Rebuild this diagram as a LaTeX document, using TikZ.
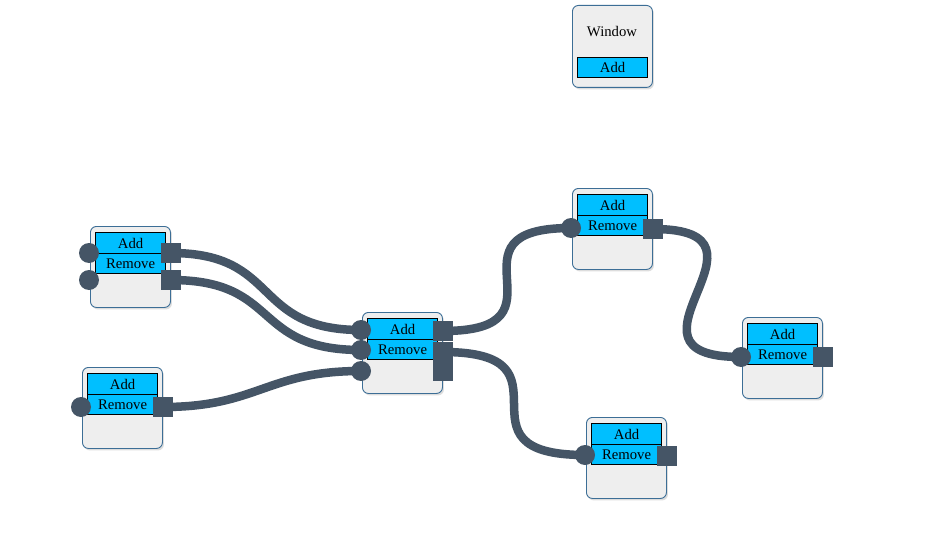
\documentclass[tikz,border=0pt]{standalone}
\usepackage{fontspec}
\setmainfont{Liberation Serif}
\usetikzlibrary{shadows}
\definecolor{wire}{RGB}{69,85,102}
\definecolor{boxfill}{RGB}{238,238,238}
\definecolor{boxline}{RGB}{60,110,150}
\definecolor{barfill}{RGB}{0,191,255}
\pgfdeclarelayer{bg}
\pgfdeclarelayer{wires}
\pgfsetlayers{bg,wires,main}
\newcommand{\mknode}[3]{%
  \node[box, anchor=north west] (#1) at (#2,#3) {};
  \node[bar, minimum height=21pt, anchor=north west] (#1add) at ({#2+5},{#3+6}) {Add};
  \node[bar, minimum height=20pt, anchor=north west] (#1rem) at ({#2+5},{#3+27}) {Remove};
}
\begin{document}
\begin{tikzpicture}[x=1pt,y=-1pt,
  box/.style={draw=boxline, fill=boxfill, line width=0.9pt, rounded corners=6pt,
    minimum width=80pt, minimum height=81pt, inner sep=0pt,
    drop shadow={shadow xshift=1.5pt, shadow yshift=-2pt, opacity=0.22, fill=black!60}},
  bar/.style={draw=black, fill=barfill, line width=1.2pt, minimum width=70pt,
    inner sep=0pt, font=\fontsize{14.7}{16}\selectfont},
  lbl/.style={inner sep=0pt, font=\fontsize{14.7}{16}\selectfont},
  inport/.style={circle, fill=wire, minimum size=20pt, inner sep=0pt},
  outport/.style={rectangle, fill=wire, minimum size=20pt, inner sep=0pt},
  wirestyle/.style={draw=wire, line width=8.5pt}]
\useasboundingbox (0,0) rectangle (926,559);
\begin{pgfonlayer}{bg}
\fill[white] (0,0) rectangle (926,559);
\mknode{A}{90}{226}
\mknode{B}{82}{367}
\mknode{C}{362}{312}
\mknode{D}{572}{188}
\mknode{E}{742}{317}
\mknode{F}{586}{417}
\node[box, anchor=north west, minimum height=82pt] (W) at (572,5) {};
\node[lbl] (Wtitle) at (612,32) {Window};
\node[bar, minimum height=20pt, anchor=north west] (Wadd) at (577,57) {Add};
\end{pgfonlayer}
% ports
\node[inport] (Ai1) at (89,253) {};
\node[inport] (Ai2) at (89,280) {};
\node[outport] (Ao1) at (171,253) {};
\node[outport] (Ao2) at (171,280) {};
\node[inport] (Bi1) at (81,407) {};
\node[outport] (Bo1) at (163,407) {};
\node[inport] (Ci1) at (361,330) {};
\node[inport] (Ci2) at (361,350) {};
\node[inport] (Ci3) at (361,371) {};
\node[outport] (Co1) at (443,331) {};
\node[outport] (Co2) at (443,352) {};
\node[outport] (Co3) at (443,371) {};
\node[inport] (Di1) at (571,228) {};
\node[outport] (Do1) at (653,229) {};
\node[inport] (Ei1) at (741,357) {};
\node[outport] (Eo1) at (823,357) {};
\node[inport] (Fi1) at (585,455) {};
\node[outport] (Fo1) at (667,456) {};
\begin{pgfonlayer}{wires}
\draw[wirestyle] (Ao1.center) .. controls +(110,0) and +(-110,0) .. (Ci1.center);
\draw[wirestyle] (Ao2.center) .. controls +(110,0) and +(-110,0) .. (Ci2.center);
\draw[wirestyle] (Bo1.center) .. controls +(95,0) and +(-95,0) .. (Ci3.center);
\draw[wirestyle] (Co1.center) .. controls +(134,0) and +(-134,0) .. (Di1.center);
\draw[wirestyle] (Do1.center) .. controls +(140,0) and +(-140,0) .. (Ei1.center);
\draw[wirestyle] (Co2.center) .. controls +(140,0) and +(-140,0) .. (Fi1.center);
\end{pgfonlayer}
\end{tikzpicture}
\end{document}
